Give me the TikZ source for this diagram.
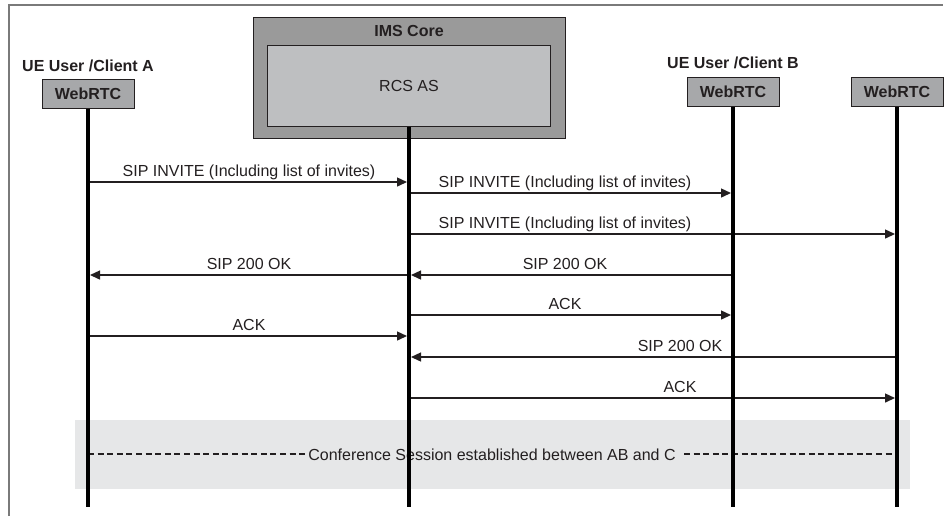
\documentclass[tikz,border=0pt]{standalone}
\usepackage{fontspec}
\setmainfont{Liberation Sans}
\usetikzlibrary{arrows.meta,positioning}
\definecolor{imsgrey}{HTML}{9A9A9A}
\definecolor{rcsgrey}{HTML}{BEBFC1}
\definecolor{boxgrey}{HTML}{A7A8AA}
\definecolor{bandgrey}{HTML}{E6E7E8}
\definecolor{framegrey}{HTML}{7A7A7A}
\definecolor{inkdark}{HTML}{231F20}

\begin{document}
\begin{tikzpicture}[x=0.5pt,y=-0.5pt,
  every node/.style={font=\fontsize{8}{9.6}\selectfont,text=inkdark},
  boldlbl/.style={font=\bfseries\fontsize{8}{9.6}\selectfont},
  webrtc/.style={draw=inkdark,line width=0.5pt,fill=boxgrey,minimum width=46pt,
    minimum height=14.5pt,inner sep=0pt,boldlbl},
  lifeline/.style={line width=2pt,black},
  msg/.style={line width=0.7pt,inkdark,-{Triangle[length=5pt,width=4.5pt]},
    shorten <=1pt,shorten >=1pt},
  msglbl/.style={anchor=base,inner sep=0pt},
  sessline/.style={inkdark,line width=0.55pt,dash pattern=on 3pt off 1.8pt}]
  \useasboundingbox (0,0) rectangle (945,516);
  \draw[framegrey,line width=0.75pt] (9,516) -- (9,5) -- (943,5);

  % core network and end points
  \node[draw=inkdark,line width=0.5pt,fill=imsgrey,minimum width=156pt,
    minimum height=60.5pt] (ims) at (409,77.5) {};
  \node[boldlbl] (imslbl) at (409,31) {IMS Core};
  \node[draw=inkdark,line width=0.5pt,fill=rcsgrey,minimum width=141.5pt,
    minimum height=40.5pt] (rcs) at (409,85.5) {RCS AS};
  \node[webrtc] (wA) at (88,93.5) {WebRTC};
  \node[webrtc] (wB) at (733,92) {WebRTC};
  \node[webrtc] (wC) at (897,92) {WebRTC};
  \node[boldlbl,anchor=base] (ueA) at (88,71) {UE User /Client A};
  \node[boldlbl,anchor=base] (ueB) at (733,68) {UE User /Client B};

  % established session
  \fill[bandgrey] (75,420) rectangle (910,489);
  \coordinate (sess) at (0,454);
  \node[anchor=base,inner sep=1pt] (conf) at (492,460)
    {Conference Session established between AB and C};
  \draw[sessline] (wA |- sess) -- (conf.west |- sess);
  \draw[sessline,shorten <=3pt] (conf.east |- sess) -- (wC |- sess);

  % signalling
  \foreach \y/\s/\t/\lx/\txt [count=\i] in {
    182/wA/rcs/249/SIP INVITE (Including list of invites),
    193/rcs/wB/565/SIP INVITE (Including list of invites),
    234/rcs/wC/565/SIP INVITE (Including list of invites),
    275/rcs/wA/249/SIP 200 OK,
    275/wB/rcs/565/SIP 200 OK,
    315/rcs/wB/565/ACK,
    336/wA/rcs/249/ACK,
    357/wC/rcs/680/SIP 200 OK,
    398/rcs/wC/680/ACK} {
    \draw[msg] (\s |- 0,\y) -- (\t |- 0,\y);
    \node[msglbl] (lbl\i) at (\lx,\y-6) {\txt};
  }

  \coordinate (bottom) at (0,507);
  \foreach \n in {wA,rcs,wB,wC}
    \draw[lifeline] (\n.south) -- (\n.south |- bottom);
\end{tikzpicture}
\end{document}
